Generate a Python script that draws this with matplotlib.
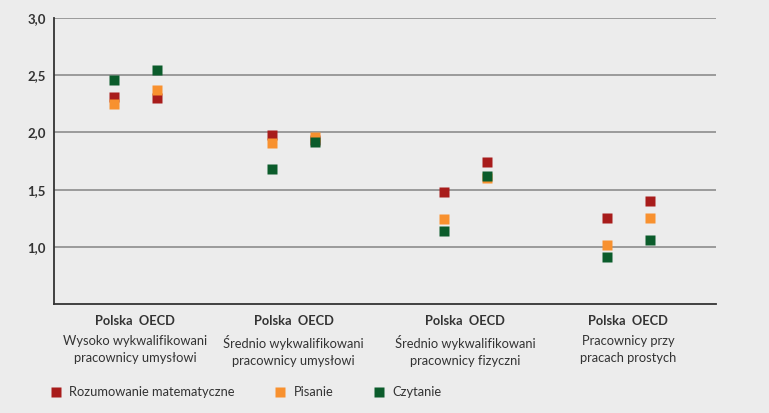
import matplotlib.pyplot as plt
from matplotlib.lines import Line2D
import matplotlib.transforms as mtransforms

plt.rcParams['font.family'] = ['Lato', 'DejaVu Sans']

groups = ['Wysoko wykwalifikowani\npracownicy umysłowi',
          'Średnio wykwalifikowani\npracownicy umysłowi',
          'Średnio wykwalifikowani\npracownicy fizyczni',
          'Pracownicy przy\npracach prostych']
group_pos = [1.23, 3.62, 6.21, 8.67]
offset = 0.325

series = ['Rozumowanie matematyczne', 'Pisanie', 'Czytanie']
colors = ['#a81c1b', '#f8912f', '#0b5c2b']

# values: [Polska, OECD] per group
math_pl = [2.31, 1.98, 1.48, 1.25]
math_oecd = [2.30, 1.93, 1.74, 1.40]
write_pl = [2.245, 1.91, 1.24, 1.02]
write_oecd = [2.37, 1.96, 1.60, 1.25]
read_pl = [2.46, 1.68, 1.14, 0.91]
read_oecd = [2.55, 1.92, 1.62, 1.06]

bg = '#ececec'
txt = '#333333'
fig = plt.figure(figsize=(7.69, 4.13), dpi=100, facecolor=bg)
ax = fig.add_axes([0.0702, 0.264, 0.861, 0.692], facecolor=bg)

pl_x = [g - offset for g in group_pos]
oecd_x = [g + offset for g in group_pos]
data = [(math_pl, math_oecd), (write_pl, write_oecd), (read_pl, read_oecd)]
for (pl, oe), c in zip(data, colors):
    ax.plot(pl_x, pl, 's', color=c, ms=7.3, mec='none', zorder=3)
    ax.plot(oecd_x, oe, 's', color=c, ms=7.3, mec='none', zorder=3)

ax.set_xlim(0, 10)
ax.set_ylim(0.5, 3.0)
ax.set_yticks([1.0, 1.5, 2.0, 2.5, 3.0])
ax.set_yticklabels(['1,0', '1,5', '2,0', '2,5', '3,0'], fontweight='bold',
                   fontsize=9.5, color=txt)
ax.set_xticks([])
ax.tick_params(axis='y', length=0, pad=6)
ax.grid(axis='y', color='#8c8c8c', lw=1.2)
ax.set_axisbelow(True)
for s in ['top', 'right']:
    ax.spines[s].set_visible(False)
for s in ['left', 'bottom']:
    ax.spines[s].set_color(txt)
    ax.spines[s].set_linewidth(1.3)

tr = mtransforms.blended_transform_factory(ax.transData, ax.transAxes)
for g, lab in zip(group_pos, groups):
    ax.text(g, -0.058, 'Polska  OECD', transform=tr, ha='center', va='center',
            fontsize=9.3, fontweight='bold', color=txt)
    ax.text(g, -0.11, lab, transform=tr, ha='center', va='top',
            fontsize=9.3, color=txt, linespacing=1.45)

handles = [Line2D([], [], marker='s', ls='none', color=c, ms=7.3, mec='none')
           for c in colors]
fig.legend(handles, series, loc='center left', bbox_to_anchor=(0.049, 0.05),
           ncol=3, frameon=False, fontsize=9.3, handletextpad=0.55,
           columnspacing=3.0, handlelength=1.0, labelcolor=txt)

fig.savefig('out.png', dpi=100, facecolor=bg)
